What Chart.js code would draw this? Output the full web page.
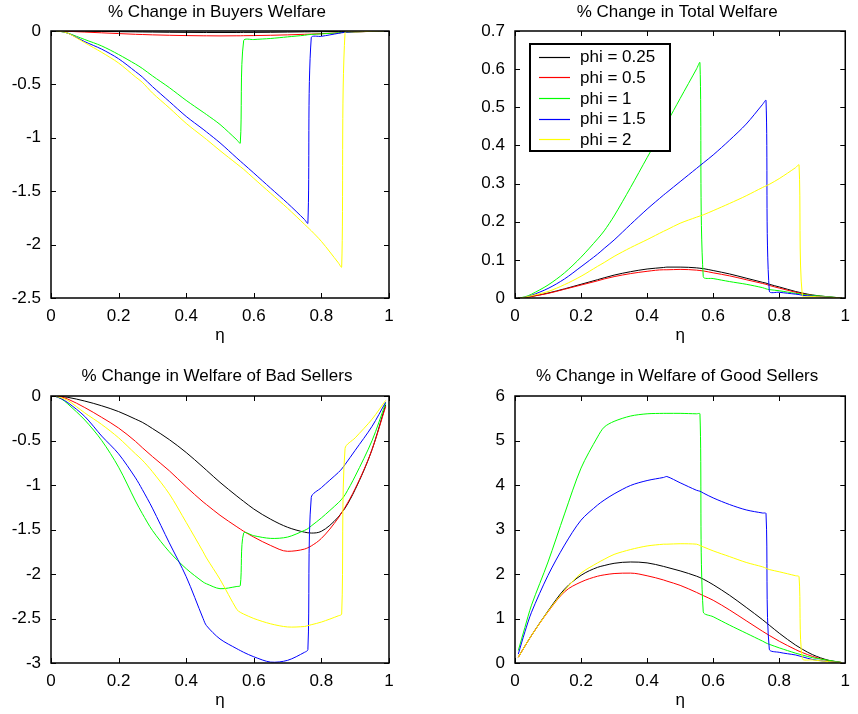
<!DOCTYPE html>
<html><head><meta charset="utf-8">
<script src="https://cdn.jsdelivr.net/npm/chart.js@4"></script>
<style>
html,body{margin:0;padding:0;background:#fff;}
body{width:858px;height:714px;position:relative;overflow:hidden;}
.p{position:absolute;width:429px;height:357px;}
</style></head><body>
<div class="p" style="left:0;top:0"><canvas id="c1" width="429" height="357"></canvas></div>
<div class="p" style="left:429px;top:0"><canvas id="c2" width="429" height="357"></canvas></div>
<div class="p" style="left:0;top:357px"><canvas id="c3" width="429" height="357"></canvas></div>
<div class="p" style="left:429px;top:357px"><canvas id="c4" width="429" height="357"></canvas></div>
<script>
// ---------- data ----------
const eta = [0.01,0.03,0.05,0.1,0.15,0.2,0.25,0.27,0.3,0.35,0.4,0.45,0.46,0.5,0.55,0.56,0.57,0.6,0.65,0.7,0.75,0.76,0.77,0.8,0.85,0.86,0.87,0.9,0.95,0.99];
const phiLabels = ['phi = 0.25','phi = 0.5','phi = 1','phi = 1.5','phi = 2'];
const phiColors = ['#000000','#ff0000','#00ff00','#0000ff','#ffff00'];

// % Change in Buyers Welfare
const bw025 = [0,-0.0005,-0.001,-0.002,-0.004,-0.006,-0.008,-0.009,-0.01,-0.012,-0.013,-0.014,-0.014,-0.014,-0.014,-0.014,-0.013,-0.013,-0.012,-0.01,-0.008,-0.008,-0.007,-0.006,-0.004,-0.004,-0.003,-0.002,-0.001,0];
const bw05  = [0,-0.001,-0.003,-0.01,-0.017,-0.024,-0.031,-0.033,-0.036,-0.04,-0.043,-0.045,-0.045,-0.046,-0.045,-0.045,-0.044,-0.043,-0.04,-0.036,-0.031,-0.03,-0.029,-0.025,-0.017,-0.015,-0.014,-0.009,-0.003,0];
const bw1   = [0,-0.005,-0.02,-0.08,-0.14,-0.22,-0.31,-0.35,-0.42,-0.53,-0.65,-0.76,-0.782,-0.875,-1.02,-1.05,-0.09,-0.08,-0.07,-0.055,-0.04,-0.035,-0.032,-0.027,-0.017,-0.014,-0.012,-0.008,-0.003,0];
const bw15  = [0,-0.005,-0.02,-0.1,-0.17,-0.26,-0.38,-0.43,-0.52,-0.66,-0.8,-0.92,-0.945,-1.047,-1.19,-1.218,-1.246,-1.33,-1.472,-1.613,-1.765,-1.80,-0.063,-0.05,-0.022,-0.016,-0.012,-0.008,-0.003,0];
const bw2   = [0,-0.005,-0.02,-0.11,-0.2,-0.3,-0.43,-0.48,-0.58,-0.72,-0.865,-0.99,-1.015,-1.12,-1.245,-1.27,-1.295,-1.38,-1.52,-1.66,-1.81,-1.84,-1.87,-1.97,-2.17,-2.21,-0.012,-0.008,-0.003,0];

// % Change in Total Welfare
const tw025 = [0,0.001,0.004,0.013,0.024,0.036,0.048,0.053,0.06,0.069,0.076,0.08,0.081,0.081,0.079,0.078,0.077,0.072,0.063,0.052,0.041,0.039,0.036,0.029,0.017,0.015,0.013,0.008,0.003,0];
const tw05  = [0,0.001,0.004,0.012,0.023,0.034,0.045,0.05,0.056,0.064,0.07,0.074,0.074,0.075,0.073,0.072,0.071,0.066,0.058,0.048,0.038,0.036,0.033,0.026,0.015,0.013,0.011,0.007,0.002,0];
const tw1   = [0,0.003,0.01,0.034,0.066,0.107,0.155,0.176,0.215,0.29,0.368,0.445,0.46,0.523,0.601,0.617,0.056,0.051,0.043,0.036,0.027,0.024,0.022,0.019,0.012,0.011,0.009,0.007,0.003,0];
const tw15  = [0,0.002,0.007,0.025,0.05,0.082,0.115,0.13,0.152,0.193,0.233,0.27,0.277,0.305,0.34,0.347,0.354,0.375,0.414,0.456,0.508,0.518,0.018,0.015,0.01,0.009,0.007,0.005,0.002,0];
const tw2   = [0,0.002,0.006,0.017,0.035,0.057,0.083,0.093,0.109,0.132,0.153,0.175,0.179,0.196,0.212,0.215,0.218,0.229,0.248,0.268,0.29,0.294,0.298,0.313,0.342,0.349,0.006,0.004,0.002,0];

// % Change in Welfare of Bad Sellers
const bs025 = [0,-0.005,-0.015,-0.057,-0.11,-0.175,-0.26,-0.295,-0.365,-0.49,-0.635,-0.8,-0.834,-0.97,-1.125,-1.155,-1.184,-1.27,-1.385,-1.475,-1.53,-1.537,-1.54,-1.52,-1.36,-1.31,-1.26,-1.05,-0.6,-0.1];
const bs05  = [0,-0.01,-0.035,-0.13,-0.24,-0.36,-0.51,-0.58,-0.68,-0.84,-1.02,-1.19,-1.22,-1.34,-1.47,-1.495,-1.52,-1.585,-1.68,-1.745,-1.72,-1.705,-1.685,-1.6,-1.37,-1.31,-1.25,-1.04,-0.6,-0.12];
const bs1   = [0,-0.03,-0.09,-0.27,-0.5,-0.8,-1.18,-1.32,-1.51,-1.75,-1.94,-2.09,-2.11,-2.165,-2.14,-2.13,-1.54,-1.57,-1.6,-1.585,-1.51,-1.49,-1.46,-1.37,-1.2,-1.16,-1.11,-0.9,-0.5,-0.08];
const bs15  = [0,-0.03,-0.075,-0.23,-0.45,-0.65,-0.92,-1.05,-1.26,-1.65,-2.03,-2.5,-2.58,-2.73,-2.84,-2.86,-2.88,-2.93,-2.99,-2.97,-2.88,-2.85,-1.14,-1.03,-0.86,-0.82,-0.77,-0.61,-0.34,-0.07];
const bs2   = [0,-0.02,-0.05,-0.19,-0.32,-0.47,-0.65,-0.72,-0.85,-1.1,-1.42,-1.75,-1.82,-2.06,-2.4,-2.43,-2.45,-2.5,-2.56,-2.595,-2.59,-2.58,-2.57,-2.54,-2.47,-2.45,-0.59,-0.47,-0.26,-0.05];

// % Change in Welfare of Good Sellers
const gs025 = [0.13,0.38,0.62,1.17,1.66,1.97,2.15,2.19,2.24,2.27,2.25,2.17,2.15,2.07,1.95,1.92,1.885,1.76,1.52,1.25,0.97,0.91,0.85,0.67,0.4,0.355,0.31,0.19,0.06,0.01];
const gs05  = [0.13,0.38,0.62,1.15,1.6,1.82,1.95,1.98,2.01,2.02,1.96,1.865,1.84,1.745,1.585,1.55,1.515,1.41,1.19,0.95,0.71,0.665,0.62,0.49,0.3,0.265,0.235,0.15,0.05,0.01];
const gs1   = [0.28,0.8,1.3,2.27,3.35,4.38,5.08,5.30,5.43,5.55,5.6,5.61,5.61,5.61,5.6,5.6,1.15,1.04,0.85,0.67,0.49,0.45,0.42,0.34,0.22,0.2,0.18,0.12,0.06,0.01];
const gs15  = [0.2,0.7,1.14,1.97,2.65,3.21,3.55,3.66,3.8,3.99,4.1,4.17,4.19,4.05,3.88,3.86,3.82,3.71,3.56,3.44,3.37,3.36,0.31,0.24,0.18,0.16,0.14,0.08,0.03,0.01];
const gs2   = [0.13,0.38,0.62,1.16,1.63,2.02,2.25,2.33,2.44,2.55,2.63,2.67,2.67,2.68,2.67,2.64,2.61,2.52,2.39,2.26,2.16,2.13,2.1,2.05,1.96,1.94,0.1,0.07,0.03,0.01];

// tick values / labels
const xTickVals = [0,0.2,0.4,0.6,0.8,1];
const xTickLabels = ['0','0.2','0.4','0.6','0.8','1'];
const bwTickVals = [-2.5,-2,-1.5,-1,-0.5,0];
const bwTickLabels = ['-2.5','-2','-1.5','-1','-0.5','0'];
const twTickVals = [0,0.1,0.2,0.3,0.4,0.5,0.6,0.7];
const twTickLabels = ['0','0.1','0.2','0.3','0.4','0.5','0.6','0.7'];
const bsTickVals = [-3,-2.5,-2,-1.5,-1,-0.5,0];
const bsTickLabels = ['-3','-2.5','-2','-1.5','-1','-0.5','0'];
const gsTickVals = [0,1,2,3,4,5,6];
const gsTickLabels = ['0','1','2','3','4','5','6'];

const titles = ['% Change in Buyers Welfare','% Change in Total Welfare','% Change in Welfare of Bad Sellers','% Change in Welfare of Good Sellers'];
const xAxisTitle = '\u03b7';

// ---------- rendering ----------
const FONT = '"Liberation Sans", Arial, Helvetica, sans-serif';
const FS = 17;
Chart.defaults.font.family = FONT;
Chart.defaults.font.size = FS;
Chart.defaults.color = '#000';

const framePlugin = {
  id: 'frameTicks',
  afterDatasetsDraw(chart, args, opts) {
    const {ctx, chartArea: {left, right, top, bottom}, scales: {x, y}} = chart;
    ctx.save();
    ctx.strokeStyle = '#000';
    ctx.lineWidth = 1;
    const L = 5;
    ctx.beginPath();
    x.ticks.forEach((t, i) => {
      const px = Math.round(x.getPixelForTick(i)) + 0.5;
      ctx.moveTo(px, bottom); ctx.lineTo(px, bottom - L);
      ctx.moveTo(px, top); ctx.lineTo(px, top + L);
    });
    y.ticks.forEach((t, i) => {
      const py = Math.round(y.getPixelForTick(i)) + 0.5;
      ctx.moveTo(left, py); ctx.lineTo(left + L, py);
      ctx.moveTo(right, py); ctx.lineTo(right - L, py);
    });
    ctx.stroke();
    // legend (inside plot area)
    if (opts.legend) {
      const bx = left + 15, by = top + 13, bw = 140, bh = 107;
      ctx.fillStyle = '#fff';
      ctx.fillRect(bx, by, bw, bh);
      ctx.lineWidth = 2;
      ctx.strokeRect(bx, by, bw, bh);
      ctx.font = FS + 'px ' + FONT;
      ctx.textAlign = 'left';
      ctx.textBaseline = 'middle';
      chart.data.datasets.forEach((ds, i) => {
        const ry = by + 12.7 + i * 20.6;
        ctx.strokeStyle = ds.borderColor;
        ctx.lineWidth = 1.2;
        ctx.beginPath();
        ctx.moveTo(bx + 9, Math.round(ry) + 0.5); ctx.lineTo(bx + 40, Math.round(ry) + 0.5);
        ctx.stroke();
        ctx.fillStyle = '#000';
        ctx.fillText(ds.label, bx + 50, ry + 1);
      });
    }
    ctx.strokeStyle = '#000';
    ctx.lineWidth = 1.5;
    ctx.strokeRect(left, top, right - left, bottom - top);
    // title
    ctx.fillStyle = '#000';
    ctx.font = FS + 'px ' + FONT;
    ctx.textAlign = 'center';
    ctx.textBaseline = 'middle';
    ctx.fillText(opts.title, (left + right) / 2 - 3, opts.titleY);
    ctx.restore();
  }
};

function makePanel(id, title, series, yMin, yMax, yVals, yLabels, geo) {
  const datasets = series.map((arr, k) => {
    const ds = {
      label: phiLabels[k],
      data: eta.map((e, i) => ({x: e, y: arr[i]})),
      borderColor: phiColors[k],
      backgroundColor: phiColors[k],
      borderWidth: 1,
      pointRadius: 0,
      fill: false,
      order: series.length - k
    };
    // smooth series (no jumps) use monotone cubic; series with jumps use light tension
    if (k < 2) ds.cubicInterpolationMode = 'monotone'; else ds.tension = 0.3;
    return ds;
  });
  return new Chart(document.getElementById(id), {
    type: 'line',
    data: {datasets},
    plugins: [framePlugin],
    options: {
      responsive: false,
      animation: false,
      events: [],
      layout: {padding: {left: 0, top: geo.top, right: geo.right, bottom: 0}},
      plugins: {
        legend: {display: false},
        tooltip: {enabled: false},
        title: {display: false},
        frameTicks: {title, titleY: geo.titleY, legend: !!geo.legend}
      },
      scales: {
        x: {
          type: 'linear', min: 0, max: 1,
          afterBuildTicks: s => { s.ticks = xTickVals.map(v => ({value: v})); },
          afterFit: s => { s.height = geo.xh; },
          ticks: {callback: (v, i) => xTickLabels[i], autoSkip: false, maxRotation: 0, padding: geo.xpad, color: '#000'},
          grid: {display: false, drawTicks: false},
          border: {display: false},
          title: {display: true, text: xAxisTitle, color: '#000', padding: {top: 0, bottom: geo.tpad}}
        },
        y: {
          type: 'linear', min: yMin, max: yMax,
          afterBuildTicks: s => { s.ticks = yVals.map(v => ({value: v})); },
          afterFit: s => { s.width = geo.yw; },
          ticks: {callback: (v, i) => yLabels[i], autoSkip: false, padding: 10, color: '#000'},
          grid: {display: false, drawTicks: false},
          border: {display: false}
        }
      }
    }
  });
}

makePanel('c1', titles[0], [bw025, bw05, bw1, bw15, bw2], -2.5, 0, bwTickVals, bwTickLabels,
  {top: 31, right: 40, yw: 51, xh: 59, xpad: 8, tpad: 11, titleY: 12});
makePanel('c2', titles[1], [tw025, tw05, tw1, tw15, tw2], 0, 0.7, twTickVals, twTickLabels,
  {top: 31, right: 5, yw: 86, xh: 59, xpad: 8, tpad: 11, titleY: 12, legend: true});
makePanel('c3', titles[2], [bs025, bs05, bs1, bs15, bs2], -3, 0, bsTickVals, bsTickLabels,
  {top: 39, right: 40, yw: 51, xh: 51, xpad: 8, tpad: 3, titleY: 19});
makePanel('c4', titles[3], [gs025, gs05, gs1, gs15, gs2], 0, 6, gsTickVals, gsTickLabels,
  {top: 39, right: 5, yw: 86, xh: 51, xpad: 8, tpad: 3, titleY: 19});
</script>
</body></html>
